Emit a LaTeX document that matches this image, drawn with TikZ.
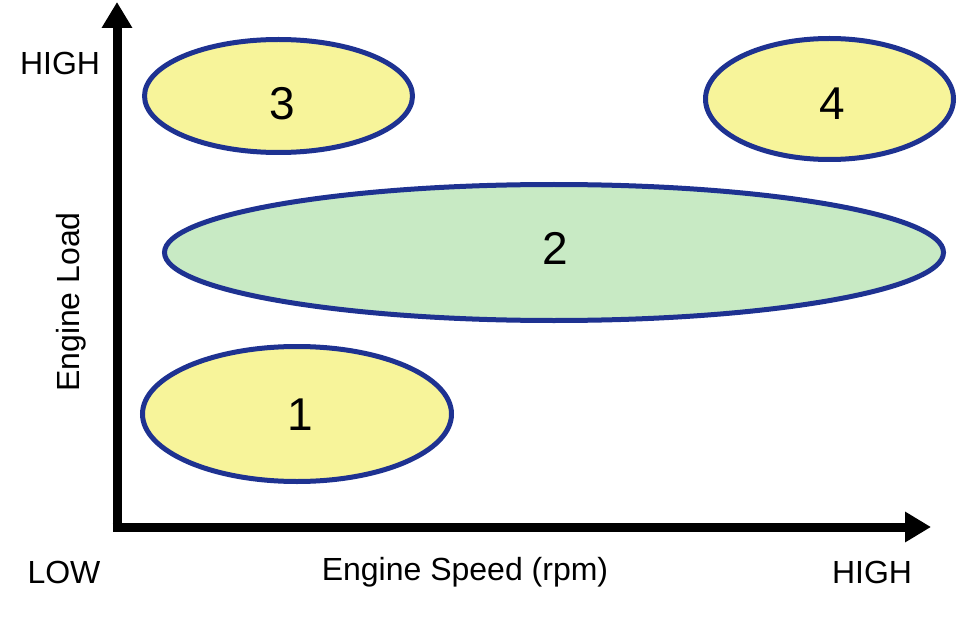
\documentclass[tikz,border=0pt]{standalone}
\usepackage{fontspec}
\setmainfont{Liberation Sans}
\usetikzlibrary{shapes.geometric,arrows.meta}
\definecolor{navy}{RGB}{30,50,145}
\definecolor{zoneyellow}{RGB}{247,244,154}
\definecolor{zonegreen}{RGB}{200,234,196}
\tikzset{
  axis/.style={line width=9pt, draw=black, -{Triangle[width=29pt,length=26pt]}},
  zone/.style={ellipse, draw=navy, line width=5pt, inner sep=0pt},
  yzone/.style={zone, fill=zoneyellow},
  gzone/.style={zone, fill=zonegreen},
  lbl/.style={font=\fontsize{32}{36}\selectfont, inner sep=0pt, anchor=base},
  num/.style={font=\fontsize{46}{50}\selectfont, inner sep=0pt, anchor=base}
}
\begin{document}
\begin{tikzpicture}[x=1pt,y=-1pt]
\useasboundingbox (0,0) rectangle (974,631);
% zones
\node[gzone, minimum width=779pt, minimum height=136pt] (z2) at (554,252.5) {};
\node[yzone, minimum width=268pt, minimum height=113pt] (z3) at (278.5,96) {};
\node[yzone, minimum width=248pt, minimum height=121pt] (z4) at (829.5,99) {};
\node[yzone, minimum width=309pt, minimum height=135pt] (z1) at (297,414) {};
\node[num] (n3) at (282,120) {3};
\node[num] (n4) at (832,120) {4};
\node[num] (n2) at (555,264) {2};
\node[num] (n1) at (300,430) {1};
% axes
\coordinate (o) at (117,527);
\coordinate (ytip) at (117,2);
\coordinate (xtip) at (931,527);
\coordinate (ostart) at (117,531.5);
\coordinate (xstart) at (112.5,527);
\draw[axis] (ostart) -- (ytip);
\draw[axis] (xstart) -- (xtip);
% labels
\node[lbl] (hy) at (60,75) {HIGH};
\node[lbl] (low) at (64,583) {LOW};
\node[lbl] (hx) at (872,583) {HIGH};
\node[lbl] (xs) at (465,580) {Engine Speed (rpm)};
\node[font=\fontsize{32}{36}\selectfont, inner sep=0pt, rotate=90] (ys) at (71,302) {Engine Load};
\end{tikzpicture}
\end{document}
